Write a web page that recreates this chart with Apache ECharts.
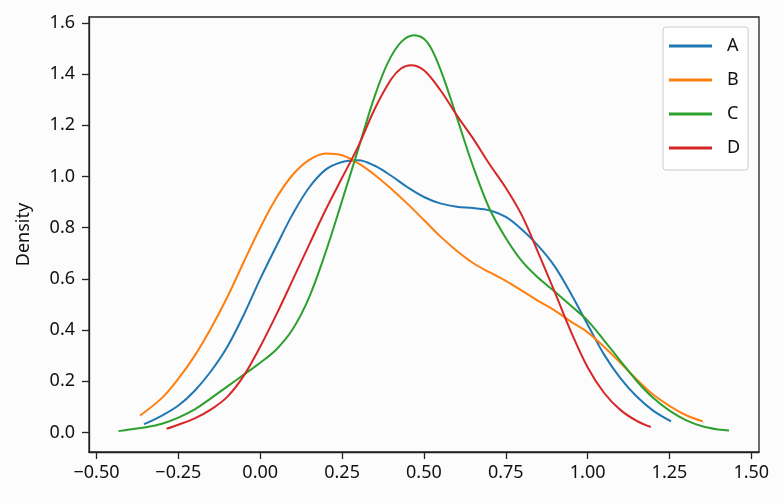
<!DOCTYPE html>
<html>
<head>
<meta charset="utf-8">
<script src="https://cdn.jsdelivr.net/npm/echarts@6/dist/echarts.min.js"></script>
<style>
html,body{margin:0;padding:0;background:#fcfcfd;}
#c{width:784px;height:504px;}
</style>
</head>
<body>
<div id="c"></div>
<script>
// Series names
const seriesNames = ['A', 'B', 'C', 'D'];

// A (blue)
const aX = [-0.355, -0.30, -0.25, -0.20, -0.15, -0.10, -0.05, 0.00, 0.05, 0.10, 0.15, 0.20, 0.25, 0.30, 0.35, 0.40, 0.45, 0.50, 0.55, 0.60, 0.65, 0.70, 0.75, 0.80, 0.85, 0.90, 0.95, 1.00, 1.05, 1.10, 1.15, 1.20, 1.255];
const aY = [0.032, 0.066, 0.105, 0.163, 0.240, 0.336, 0.460, 0.600, 0.730, 0.855, 0.958, 1.027, 1.057, 1.064, 1.042, 1.003, 0.958, 0.920, 0.895, 0.882, 0.877, 0.868, 0.842, 0.792, 0.728, 0.648, 0.540, 0.422, 0.305, 0.212, 0.140, 0.085, 0.043];

// B (orange)
const bX = [-0.367, -0.30, -0.25, -0.20, -0.15, -0.10, -0.05, 0.00, 0.05, 0.10, 0.15, 0.20, 0.25, 0.30, 0.35, 0.40, 0.45, 0.50, 0.55, 0.60, 0.65, 0.70, 0.75, 0.80, 0.85, 0.90, 0.95, 1.00, 1.05, 1.10, 1.15, 1.20, 1.25, 1.30, 1.352];
const bY = [0.066, 0.135, 0.210, 0.300, 0.408, 0.530, 0.667, 0.800, 0.918, 1.008, 1.065, 1.090, 1.083, 1.051, 1.006, 0.952, 0.893, 0.830, 0.766, 0.710, 0.662, 0.626, 0.592, 0.553, 0.513, 0.476, 0.432, 0.391, 0.335, 0.272, 0.207, 0.148, 0.104, 0.068, 0.043];

// C (green)
const cX = [-0.433, -0.40, -0.35, -0.30, -0.25, -0.20, -0.15, -0.10, -0.05, 0.00, 0.05, 0.10, 0.15, 0.20, 0.25, 0.30, 0.35, 0.39, 0.43, 0.47, 0.51, 0.55, 0.60, 0.65, 0.70, 0.75, 0.80, 0.85, 0.90, 0.95, 1.00, 1.05, 1.10, 1.15, 1.20, 1.25, 1.30, 1.35, 1.40, 1.432];
const cY = [0.005, 0.011, 0.020, 0.034, 0.058, 0.090, 0.134, 0.180, 0.226, 0.272, 0.325, 0.405, 0.530, 0.705, 0.905, 1.110, 1.315, 1.445, 1.525, 1.552, 1.525, 1.420, 1.233, 1.040, 0.875, 0.760, 0.668, 0.603, 0.550, 0.494, 0.437, 0.360, 0.280, 0.201, 0.135, 0.085, 0.048, 0.024, 0.011, 0.007];

// D (red)
const dX = [-0.286, -0.25, -0.20, -0.15, -0.10, -0.05, 0.00, 0.05, 0.10, 0.15, 0.20, 0.25, 0.30, 0.35, 0.40, 0.43, 0.46, 0.50, 0.55, 0.60, 0.65, 0.70, 0.75, 0.80, 0.85, 0.90, 0.95, 1.00, 1.05, 1.10, 1.15, 1.193];
const dY = [0.014, 0.030, 0.055, 0.090, 0.140, 0.222, 0.335, 0.462, 0.598, 0.735, 0.870, 0.995, 1.120, 1.265, 1.380, 1.422, 1.435, 1.415, 1.338, 1.240, 1.149, 1.049, 0.956, 0.846, 0.700, 0.547, 0.391, 0.255, 0.155, 0.088, 0.045, 0.021];

// Tick labels
const xTicks = [-0.50, -0.25, 0.00, 0.25, 0.50, 0.75, 1.00, 1.25, 1.50];
const yTicks = [0.0, 0.2, 0.4, 0.6, 0.8, 1.0, 1.2, 1.4, 1.6];

const colors = ['#1f77b4', '#ff7f0e', '#2ca02c', '#d62728'];
const zip = (xs, ys) => xs.map((x, i) => [x, ys[i]]);
const allData = [zip(aX, aY), zip(bX, bY), zip(cX, cY), zip(dX, dY)];

const font = 'Noto Sans';
const axisColor = '#222';

const chart = echarts.init(document.getElementById('c'), null, {renderer: 'canvas'});
chart.setOption({
  backgroundColor: '#fcfcfd',
  animation: false,
  grid: {
    left: 89, right: 25, top: 17, bottom: 52,
    show: true, borderColor: axisColor, borderWidth: 1.3,
    containLabel: false, outerBoundsMode: 'none'
  },
  legend: {
    orient: 'vertical',
    left: 663, top: 27,
    data: seriesNames,
    icon: 'rect',
    itemWidth: 43, itemHeight: 3,
    itemGap: 14,
    padding: [9, 8, 12, 6],
    borderColor: '#cccccc', borderWidth: 1, borderRadius: 3,
    backgroundColor: 'rgba(255,255,255,0.85)',
    textStyle: {fontFamily: font, fontSize: 18, color: '#111', lineHeight: 20, padding: [0, 0, 0, 10]}
  },
  xAxis: {
    type: 'value',
    min: -0.523, max: 1.5235,
    splitLine: {show: false},
    axisLine: {show: true, onZero: false, lineStyle: {color: axisColor, width: 1.3}},
    axisTick: {show: true, length: 7, customValues: xTicks, lineStyle: {color: axisColor, width: 1.3}},
    axisLabel: {
      customValues: xTicks, margin: 12,
      fontFamily: font, fontSize: 18, color: '#111',
      formatter: v => (v < 0 ? '\u2212' : '') + Math.abs(v).toFixed(2)
    }
  },
  yAxis: {
    type: 'value',
    min: -0.0766, max: 1.6234,
    name: 'Density', nameLocation: 'middle', nameGap: 56,
    nameTextStyle: {fontFamily: font, fontSize: 18, color: '#111'},
    splitLine: {show: false},
    axisLine: {show: true, onZero: false, lineStyle: {color: axisColor, width: 1.3}},
    axisTick: {show: true, length: 7, customValues: yTicks, lineStyle: {color: axisColor, width: 1.3}},
    axisLabel: {
      customValues: yTicks, margin: 14,
      fontFamily: font, fontSize: 18, color: '#111',
      formatter: v => v.toFixed(1)
    }
  },
  series: seriesNames.map((n, i) => ({
    name: n,
    type: 'line',
    data: allData[i],
    smooth: 0.35,
    showSymbol: false,
    symbol: 'none',
    color: colors[i],
    lineStyle: {width: 2, color: colors[i]},
    z: 2 + i
  }))
});
</script>
</body>
</html>
